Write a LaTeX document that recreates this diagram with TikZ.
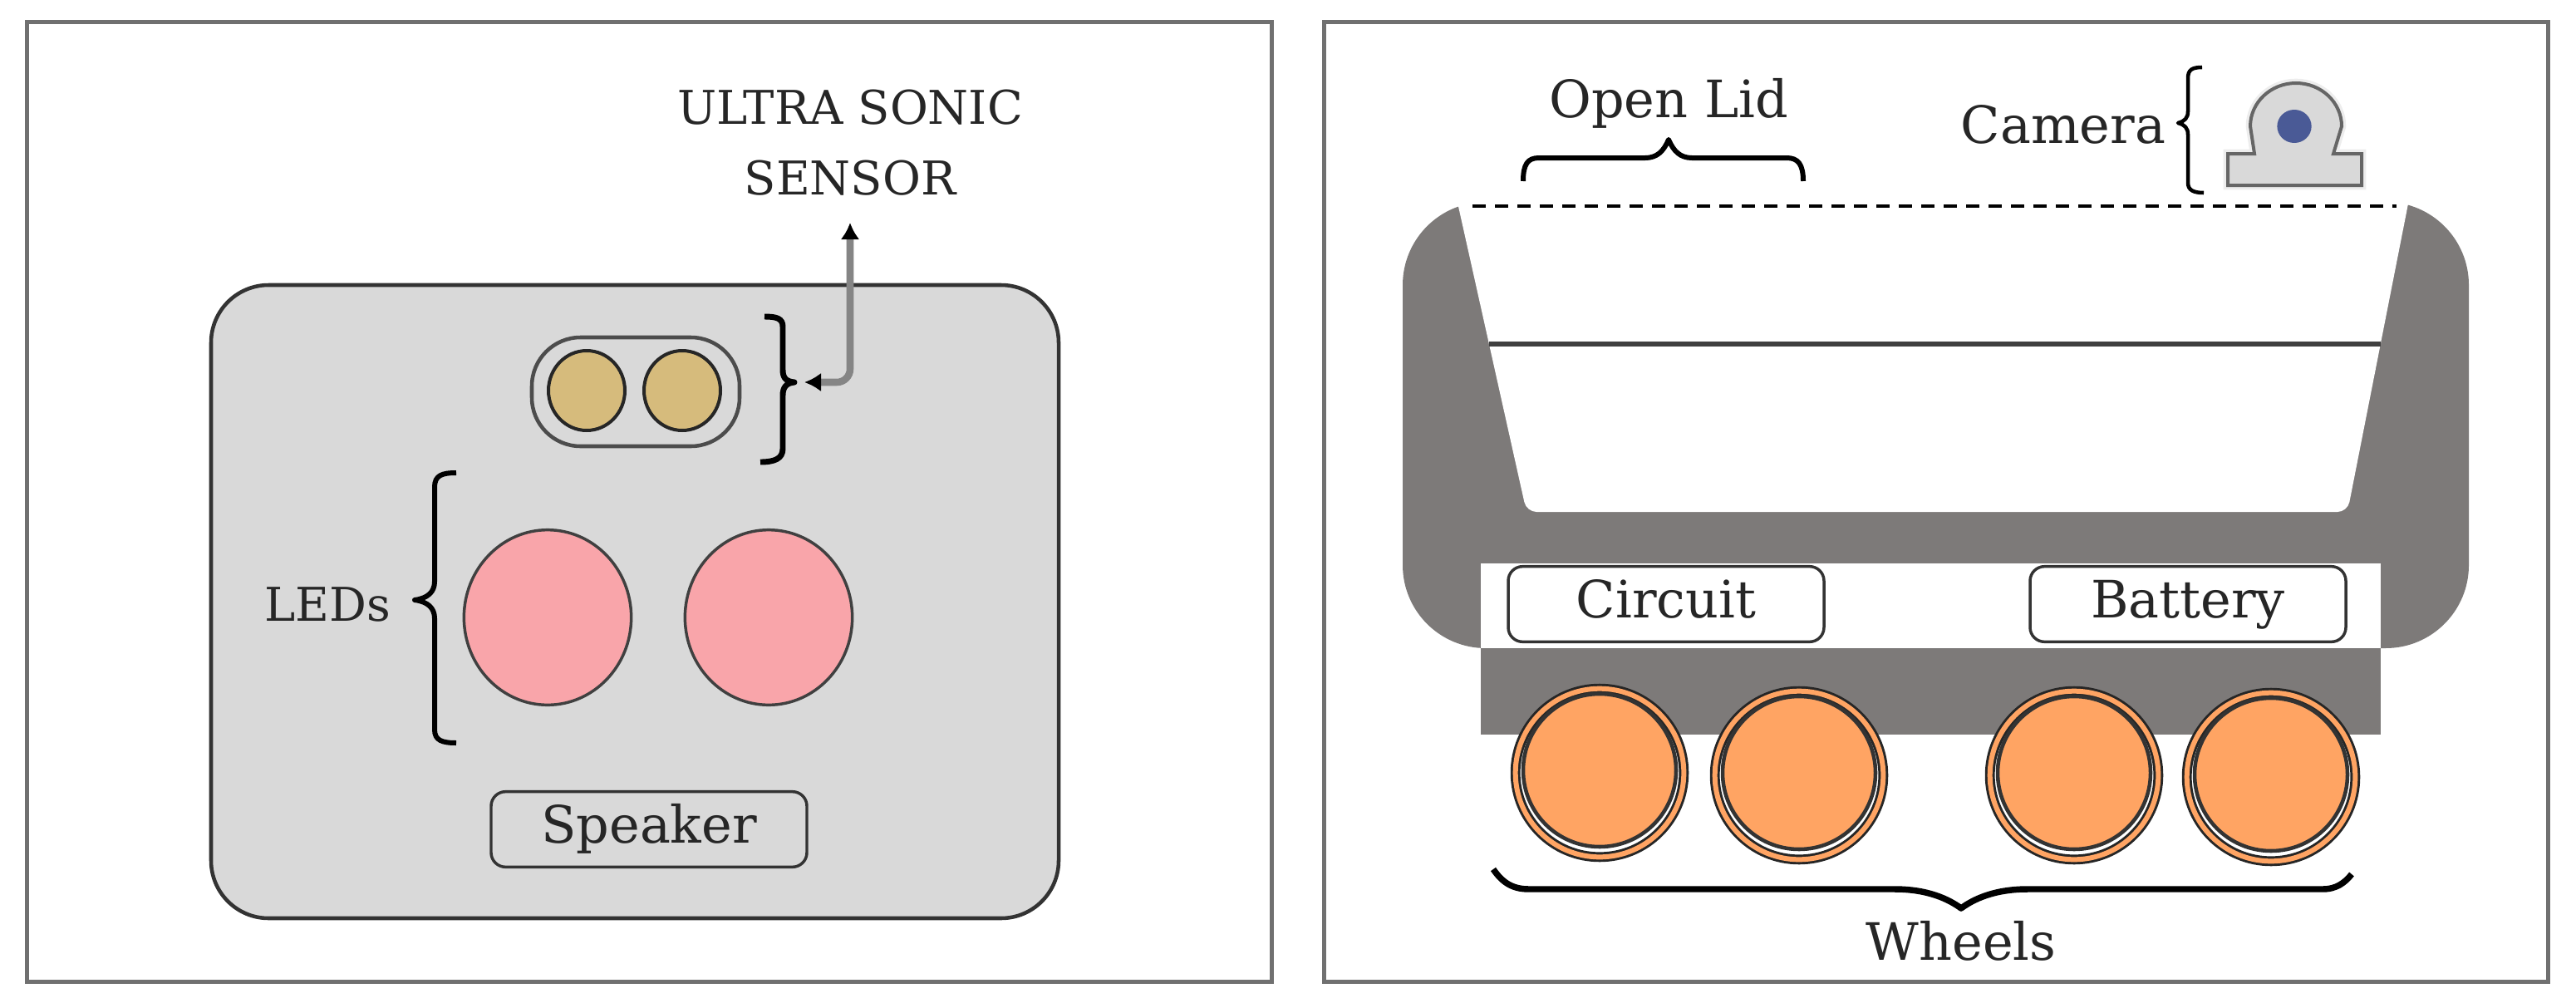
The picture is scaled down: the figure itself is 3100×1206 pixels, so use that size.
\documentclass[tikz,border=0pt]{standalone}
\usepackage{fontspec}
\usepackage{xcolor}
\setmainfont{DejaVu Serif}
\usetikzlibrary{arrows.meta,shapes.geometric}

\definecolor{panelline}{RGB}{112,112,112}
\definecolor{bodygray}{RGB}{217,217,217}
\definecolor{binggray}{RGB}{125,122,121}
\definecolor{sensortan}{RGB}{214,187,124}
\definecolor{ledpink}{RGB}{249,165,170}
\definecolor{wheelorange}{RGB}{255,164,99}
\definecolor{lensblue}{RGB}{74,90,150}

\tikzset{
  panel/.style={draw=panelline,line width=3.75pt},
  caption/.style={inner sep=0pt,text=black!85,font=\fontsize{46.5}{61}\selectfont},
  smallcaption/.style={inner sep=0pt,text=black!85,font=\fontsize{42}{64}\selectfont},
  sensordisc/.style={ellipse,draw=black!85,fill=sensortan,line width=3pt,inner sep=0pt,outer sep=0pt,minimum width=69pt,minimum height=72pt},
  leddisc/.style={ellipse,draw=black!75,fill=ledpink,line width=2.6pt,inner sep=0pt,outer sep=0pt,minimum width=151pt,minimum height=158pt},
  labelbox/.style={draw=black!80,rounded corners=13pt,line width=2.6pt,inner sep=0pt,text=black!85,minimum width=285pt,minimum height=68pt,text height=36pt,text depth=11pt,font=\fontsize{46.5}{56}\selectfont},
  wheelring/.style={ellipse,draw=black!85,double=wheelorange,double distance=4.5pt,line width=2.2pt,inner sep=0pt,outer sep=0pt,minimum size=152pt},
  wheelhub/.style={ellipse,draw=black!80,fill=wheelorange,line width=3.4pt,inner sep=0pt,outer sep=0pt,minimum size=138pt},
  curly/.style={draw=black,line width=#1,line join=round},
  curly/.default=4.5pt
}

\begin{document}
\begin{tikzpicture}[x=0.75pt,y=0.75pt,yscale=-1,xscale=1]
\useasboundingbox (0,0) rectangle (3100,1206);

%Shape: Rectangle left panel
\draw [panel] (32,27) rectangle (1530,1181);
%Shape: Rectangle right panel
\draw [panel] (1593,27) rectangle (3066,1181);

%Shape: Robot body
\draw [draw=black!80,fill=bodygray,line width=3.4pt,rounded corners=52pt] (254,343) rectangle (1274,1105);
%Shape: Sensor holder
\draw [draw=black!70,line width=3.4pt,rounded corners=44pt] (640,406) rectangle (890,537);
%Shape: Sensor discs
\node [sensordisc] (sonic1) at (706,470) {};
\node [sensordisc] (sonic2) at (821,470) {};
%Shape: LEDs
\node [leddisc] (led1) at (659,743) {};
\node [leddisc] (led2) at (925,743) {};
%Shape: Speaker box
\node [labelbox] (speaker) at (781,998) {Speaker};

% Braces of the left panel
\draw [curly=5.2pt] (920,381) .. controls (934,381) and (942,383) .. (942,393) -- (942,445) .. controls (942,455) and (946,459) .. (956,460) .. controls (946,461) and (942,466) .. (942,476) -- (942,540) .. controls (942,552) and (932,556) .. (915,556);
\draw [curly] (549,569) .. controls (532,569) and (523,572) .. (523,586) -- (523,700) .. controls (523,712) and (515,720) .. (499,722) .. controls (515,724) and (523,732) .. (523,744) -- (523,878) .. controls (523,891) and (532,894) .. (549,894);

% Text Node
\node [smallcaption,anchor=base] (ledtext) at (394,747) {LEDs};
\node [smallcaption,align=center,anchor=south] (sonictext) at (1023,236) {ULTRA SONIC\\SENSOR};

% Double arrow
\coordinate (sonictip) at (968,460);
\draw [draw=black!48,line width=6.4pt,rounded corners=12pt,shorten >=24pt,{Latex[black,length=15pt,width=17pt]}-{Latex[black,length=15pt,width=17pt]}] (sonictip) -| (sonictext.south);

%Shape: Bin body
\fill [binggray,rounded corners=75pt] (1688,243) rectangle (2971,780);
\fill [white] (1752,235) [rounded corners=9pt] -- (1837,616) -- (2825,616) [sharp corners] -- (2900,235) -- cycle;
\fill [white] (1782,678) rectangle (2865,780);
\fill [binggray] (1782,780) rectangle (2865,884);
%Straight Lines
\draw [draw=black!75,line width=4pt] (1792,414) -- (2865,414);
\draw [draw=black,line width=3.4pt,dash pattern=on 12pt off 8.25pt] (1772,248) -- (2884,248);

%Shape: Compartment boxes
\node [labelbox] (circuit) at (2005,727) {Circuit};
\node [labelbox] (battery) at (2633,727) {Battery};

%Shape: Wheels
\node [wheelring] (wheel1) at (1925,930) {};
\node [wheelhub] (hub1) at (1925,927) {};
\node [wheelring] (wheel2) at (2165,933) {};
\node [wheelhub] (hub2) at (2165,930) {};
\node [wheelring] (wheel3) at (2496,933) {};
\node [wheelhub] (hub3) at (2496,930) {};
\node [wheelring] (wheel4) at (2733,935) {};
\node [wheelhub] (hub4) at (2733,932) {};

%Shape: Camera
\draw [draw=black!7,line width=8pt] (2681,223) -- (2681,185) -- (2713,185) -- (2708,152) arc [start angle=180,end angle=360,x radius=55,y radius=52] -- (2808,185) -- (2842,185) -- (2842,223) -- cycle;
\draw [draw=black!60,fill=bodygray,line width=3pt] (2681,223) -- (2681,185) -- (2713,185) -- (2708,152) arc [start angle=180,end angle=360,x radius=55,y radius=52] -- (2808,185) -- (2842,185) -- (2842,223) -- cycle;
\node [ellipse,fill=lensblue,inner sep=0pt,minimum width=31pt,minimum height=30pt] (lens) at (2761,152) {};

% Braces of the right panel
\draw [curly] (1833,218) .. controls (1833,198) and (1838,190) .. (1852,190) -- (1980,190) .. controls (1994,190) and (2002,182) .. (2008,168) .. controls (2014,182) and (2022,190) .. (2036,190) -- (2150,190) .. controls (2164,190) and (2170,198) .. (2170,218);
\draw [curly=3.4pt] (2650,81) .. controls (2638,81) and (2633,84) .. (2633,94) -- (2633,134) .. controls (2633,142) and (2629,146) .. (2621,148) .. controls (2629,150) and (2633,154) .. (2633,162) -- (2633,220) .. controls (2633,229) and (2640,232) .. (2652,232);
\draw [curly=5.6pt] (1797,1046) .. controls (1808,1062) and (1820,1070) .. (1840,1070) -- (2280,1070) .. controls (2320,1070) and (2345,1082) .. (2360,1093) .. controls (2375,1082) and (2400,1070) .. (2440,1070) -- (2795,1070) .. controls (2812,1070) and (2822,1062) .. (2830,1052);

% Text Node
\node [caption,anchor=base] (lidtext) at (2008,141) {Open Lid};
\node [caption,anchor=base] (cameratext) at (2483,172) {Camera};
\node [caption,anchor=base] (wheeltext) at (2360,1155) {Wheels};

\end{tikzpicture}
\end{document}
